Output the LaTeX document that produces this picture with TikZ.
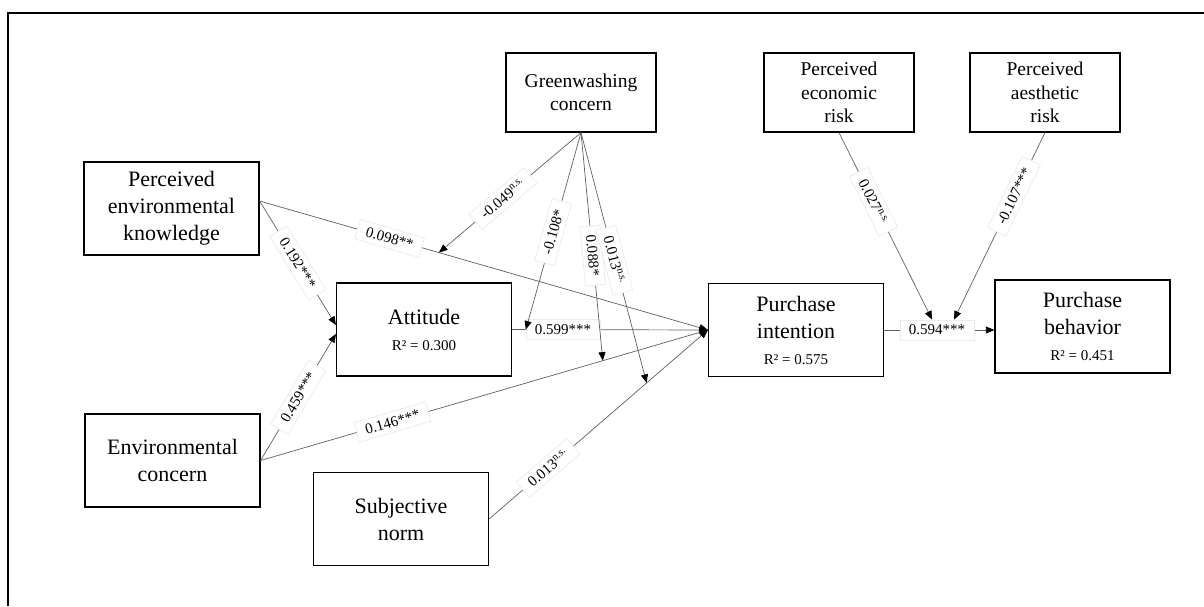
\documentclass[tikz,border=0pt]{standalone}
\usepackage{fontspec}
\setmainfont{Liberation Serif}
\usetikzlibrary{arrows.meta,calc,positioning}
\definecolor{PathGray}{RGB}{95,95,95}
\definecolor{LabelEdge}{RGB}{235,235,235}

\tikzset{
  construct/.style={draw=black,line width=1.2pt,minimum width=175pt,minimum height=93pt,
    align=center,inner sep=2pt,font=\fontsize{22}{27}\selectfont},
  moderator/.style={construct,minimum width=150pt,minimum height=79pt,
    font=\fontsize{19.5}{23.5}\selectfont},
  coef/.style={fill=white,draw=LabelEdge,font=\fontsize{15}{18}\selectfont,
    inner xsep=9pt,inner ysep=5pt},
  link/.style={draw=PathGray,line width=0.7pt,-{Triangle[length=8.5pt,width=7pt,color=black]}},
}
\newcommand{\rsq}[1]{\\[-1pt]{\fontsize{15}{18}\selectfont R² = #1}}

\begin{document}
\begin{tikzpicture}[x=1pt,y=1pt]
  \useasboundingbox (0,0) rectangle (1204,606);
  \draw[line width=1.3pt] (8,0) -- (8,593) -- (1204,593);

  % constructs
  \node[construct] (pek) at (171.5,397.5) {Perceived\\environmental\\knowledge};
  \node[construct] (ec) at (172.5,145.5) {Environmental\\concern};
  \node[construct] (att) at (424,276.5) {Attitude\rsq{0.300}};
  \node[construct] (sn) at (401,87) {Subjective\\norm};
  \node[construct] (pi) at (796,276) {Purchase\\intention\rsq{0.575}};
  \node[construct] (pb) at (1082.5,279.5) {Purchase\\behavior\rsq{0.451}};
  \node[moderator] (gc) at (581,513.5) {Greenwashing\\concern};
  \node[moderator] (per) at (839,513.5) {Perceived\\economic\\risk};
  \node[moderator] (par) at (1045,513.5) {Perceived\\aesthetic\\risk};

  % direct paths
  \coordinate (pekout) at ([yshift=7.5pt]pek.east);
  \draw[link] (pekout) -- node[coef,sloped]{0.192***} ([yshift=4.5pt]att.west);
  \draw[link] (ec.east) -- node[coef,sloped]{0.459***} ([yshift=-4.5pt]att.west);
  \draw[link] (pekout) -- node[coef,sloped,pos=0.29]{0.098**} coordinate[pos=0.4] (m1) (pi.west);
  \draw[link] (ec.east) -- node[coef,sloped,pos=0.295]{0.146***} coordinate[pos=0.765] (m3) (pi.west);
  \draw[link] (att.east) -- node[coef,pos=0.26]{0.599***} coordinate[pos=0.07] (m2) (pi.west);
  \draw[link] (sn.east) -- node[coef,sloped,pos=0.27]{0.013\textsuperscript{n.s.}} coordinate[pos=0.72] (m4) (pi.west);
  \draw[link] (pi.east) -- node[coef,pos=0.48] (b594) {0.594***} (pi.east -| pb.west);

  % moderating paths
  \draw[link] (gc.south) -- node[coef,sloped,pos=0.55]{-0.049\textsuperscript{n.s.}} (m1);
  \draw[link] (gc.south) -- node[coef,sloped,pos=0.505]{-0.108*} (m2);
  \draw[link] (gc.south) -- node[coef,sloped,pos=0.54]{0.088*} (m3);
  \draw[link] (gc.south) -- node[coef,sloped,pos=0.51]{0.013\textsuperscript{n.s.}} (m4);
  \draw[link] (per.south) -- node[coef,sloped,pos=0.37]{0.027\textsuperscript{n.s.}} ([xshift=-5pt]b594.north);
  \draw[link] (par.south) -- node[coef,sloped,pos=0.34]{-0.107***} ([xshift=17pt]b594.north);
\end{tikzpicture}
\end{document}
